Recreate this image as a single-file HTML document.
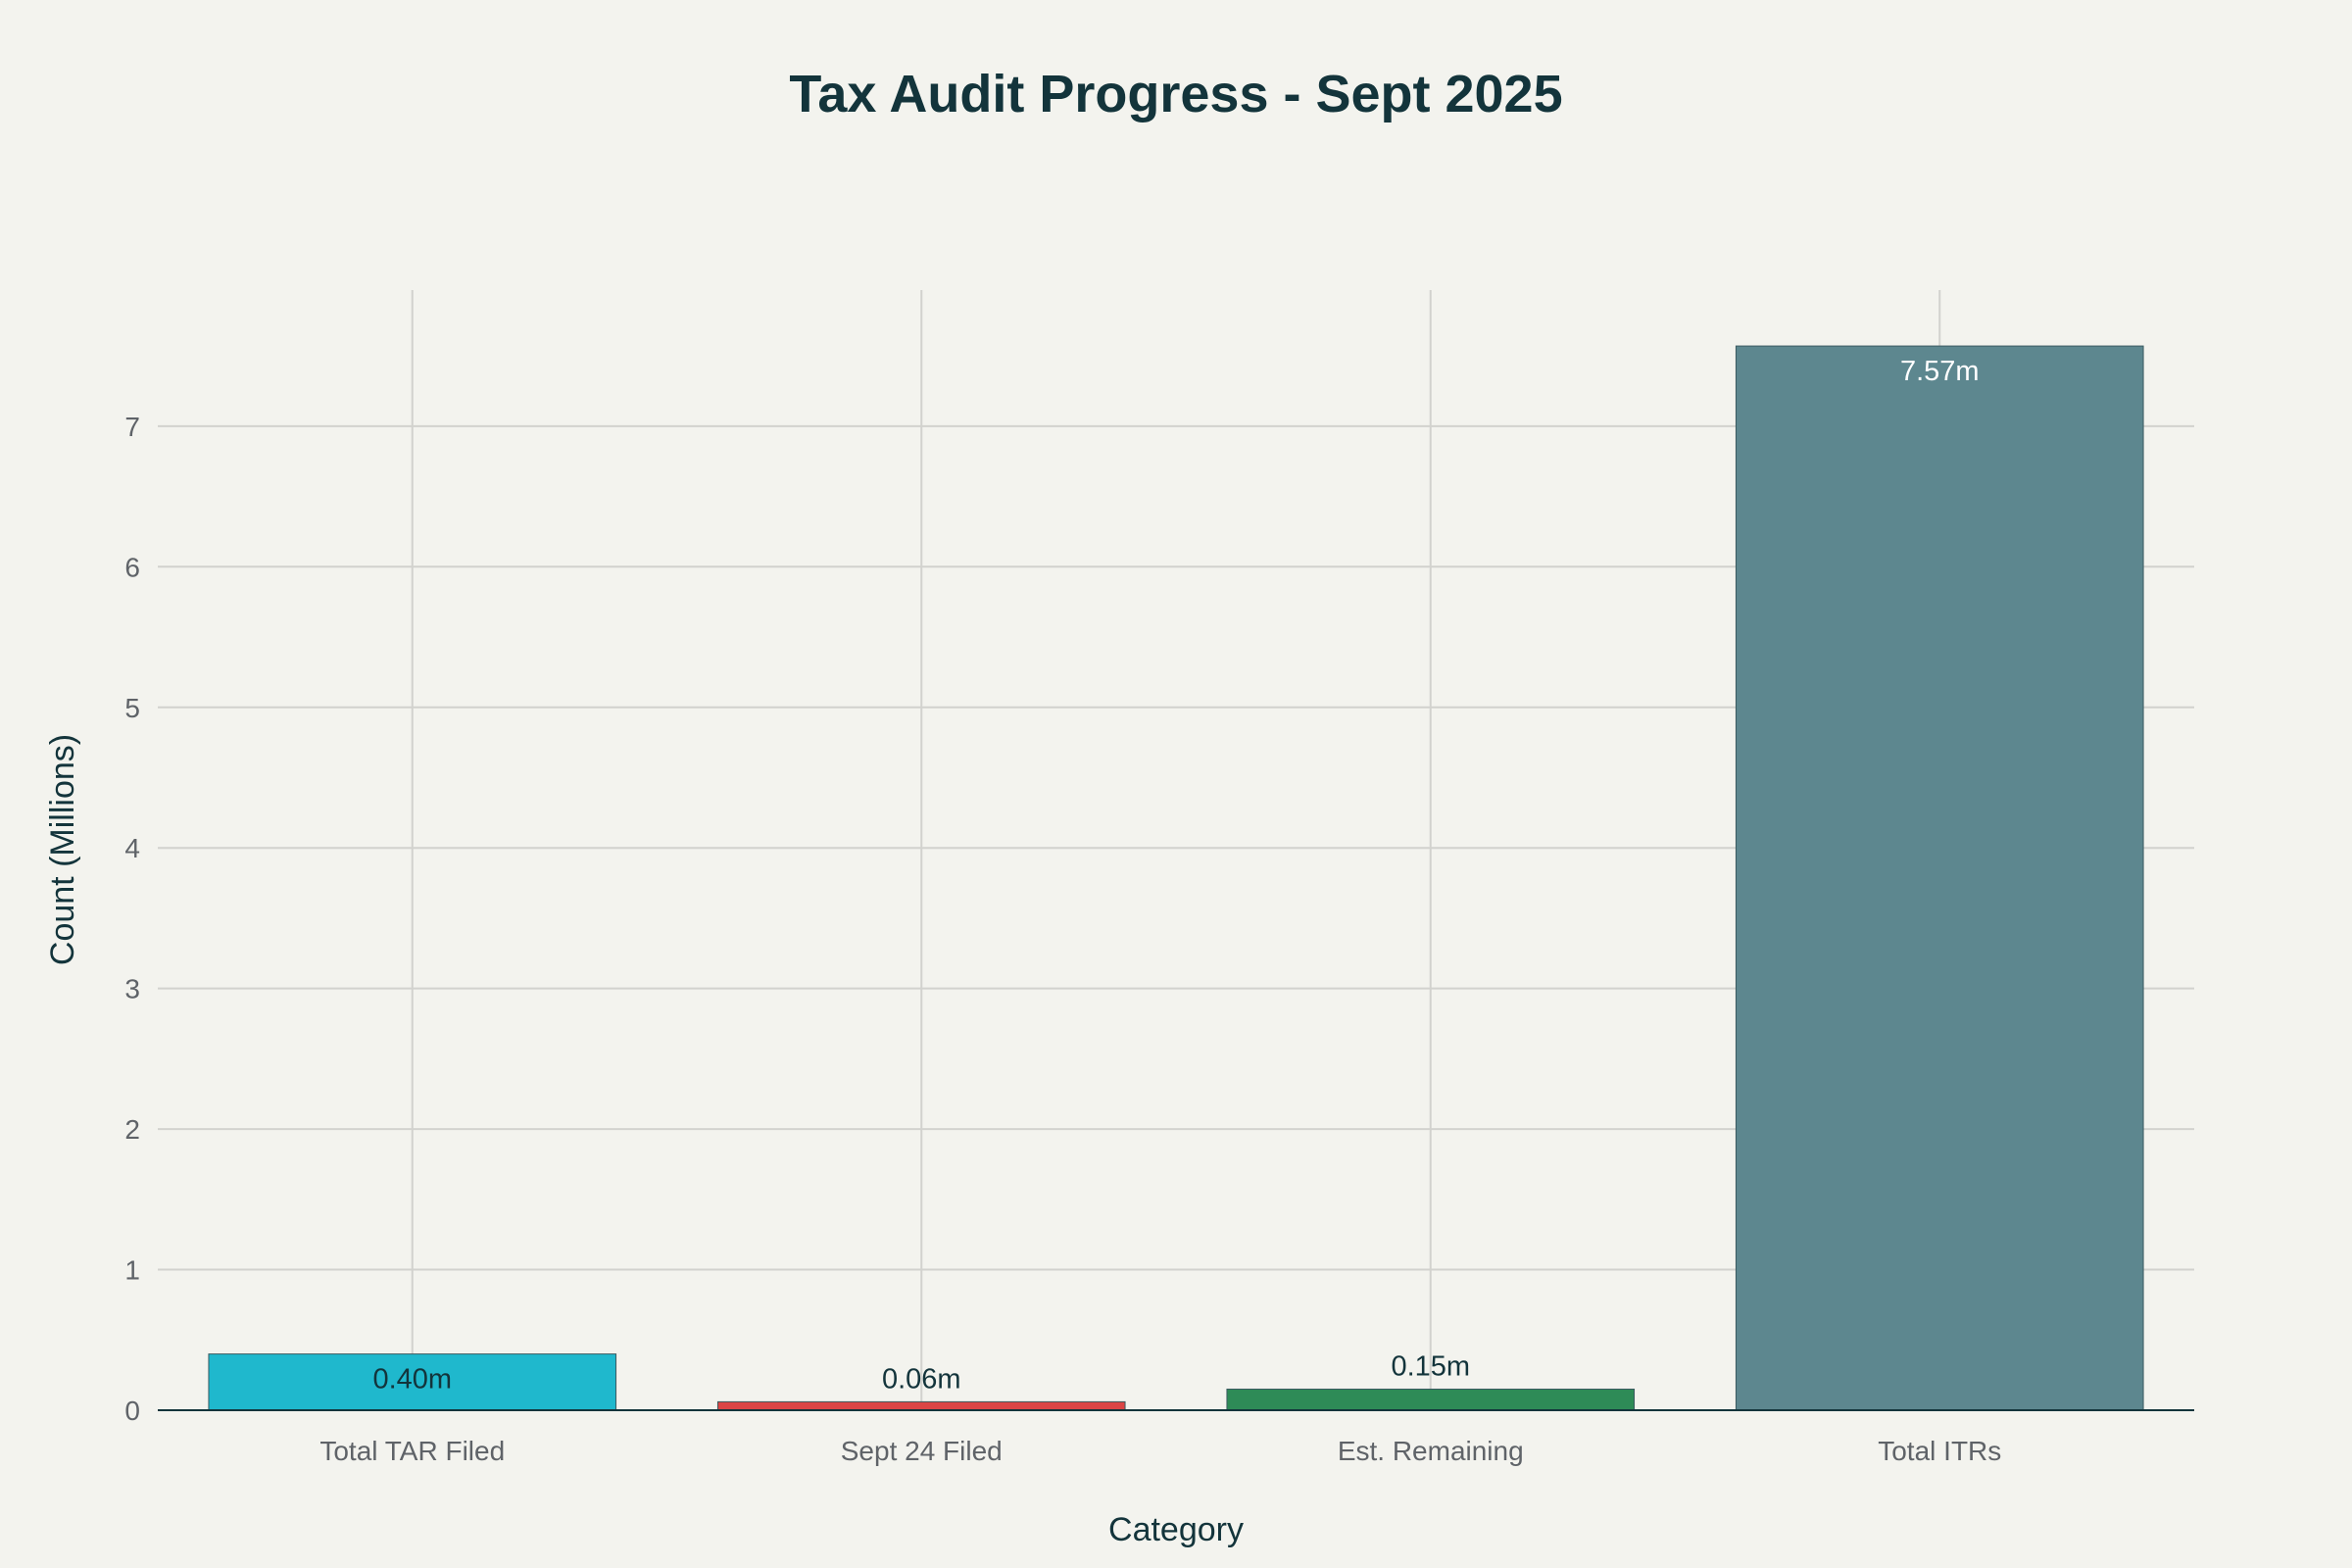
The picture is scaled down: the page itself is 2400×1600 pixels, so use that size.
<!DOCTYPE html>
<html><head><meta charset="utf-8"><style>
html,body{margin:0;padding:0;background:#F3F3EE;}
svg{display:block;font-family:"Liberation Sans",sans-serif;}
</style></head><body>
<svg id="chart" width="2400" height="1600" viewBox="0 0 2400 1600">
<rect x="0" y="0" width="2400" height="1600" fill="#F3F3EE"/>
<text x="1200" y="114" text-anchor="middle" font-size="54" font-weight="bold" fill="#13343B">Tax Audit Progress - Sept 2025</text>
<g id="grid"></g>
<g id="bars"></g>
<g id="labels"></g>
<text transform="translate(75,867) rotate(-90)" text-anchor="middle" font-size="34" fill="#13343B">Count (Millions)</text>
<text x="1200" y="1572" text-anchor="middle" font-size="34" fill="#13343B">Category</text>
</svg>
<script>
const categories = ["Total TAR Filed", "Sept 24 Filed", "Est. Remaining", "Total ITRs"];
const values = [0.40, 0.06, 0.15, 7.57];
const valueLabels = ["0.40m", "0.06m", "0.15m", "7.57m"];
const colors = ["#1FB8CD", "#DB4545", "#2E8B57", "#5D878F"];
const yTicks = [0, 1, 2, 3, 4, 5, 6, 7];

const NS = "http://www.w3.org/2000/svg";
const plotLeft = 161, plotRight = 2239, plotTop = 296, y0 = 1439, unit = 143.45;
const yScale = v => y0 - v * unit;
const band = (plotRight - plotLeft) / categories.length;
const xCenter = i => plotLeft + band * (i + 0.5);
const barW = band * 0.8;

function mk(tag, attrs, parent) {
  const el = document.createElementNS(NS, tag);
  for (const k in attrs) el.setAttribute(k, attrs[k]);
  parent.appendChild(el);
  return el;
}
const grid = document.getElementById("grid");
const bars = document.getElementById("bars");
const labels = document.getElementById("labels");

yTicks.forEach(t => {
  const y = yScale(t);
  if (t > 0) {
    const l = mk("line", {x1: plotLeft, x2: plotRight, y1: y, y2: y, stroke: "#D2D2CE", "stroke-width": 2}, grid);
    
    
  }
  const tx = mk("text", {x: plotLeft - 18, y: y + 10, "text-anchor": "end", "font-size": 28, fill: "#5F6368"}, grid);
  tx.textContent = t;
  
  
});
categories.forEach((c, i) => {
  const x = xCenter(i);
  const l = mk("line", {x1: x, x2: x, y1: plotTop, y2: y0, stroke: "#D2D2CE", "stroke-width": 2}, grid);
  
  
  const tx = mk("text", {x: x, y: y0 + 51, "text-anchor": "middle", "font-size": 28, fill: "#5F6368"}, grid);
  tx.textContent = c;
  
  
});

categories.forEach((c, i) => {
  const v = values[i];
  const yt = yScale(v);
  const r = mk("rect", {x: xCenter(i) - barW / 2, y: yt, width: barW, height: y0 - yt, fill: colors[i], stroke: "#3a5a60", "stroke-width": 1}, bars);
  
  
  const h = y0 - yt;
  const inside = h > 45;
  const tx = mk("text", {x: xCenter(i), y: inside ? yt + 35 : yt - 14, "text-anchor": "middle", "font-size": 29,
    fill: inside ? (v > 3 ? "#FFFFFF" : "#13343B") : "#13343B"}, labels);
  tx.textContent = valueLabels[i];
  
  
});
const ax = mk("line", {x1: plotLeft, x2: plotRight, y1: y0, y2: y0, stroke: "#13343B", "stroke-width": 2}, labels);


</script>
</body></html>
